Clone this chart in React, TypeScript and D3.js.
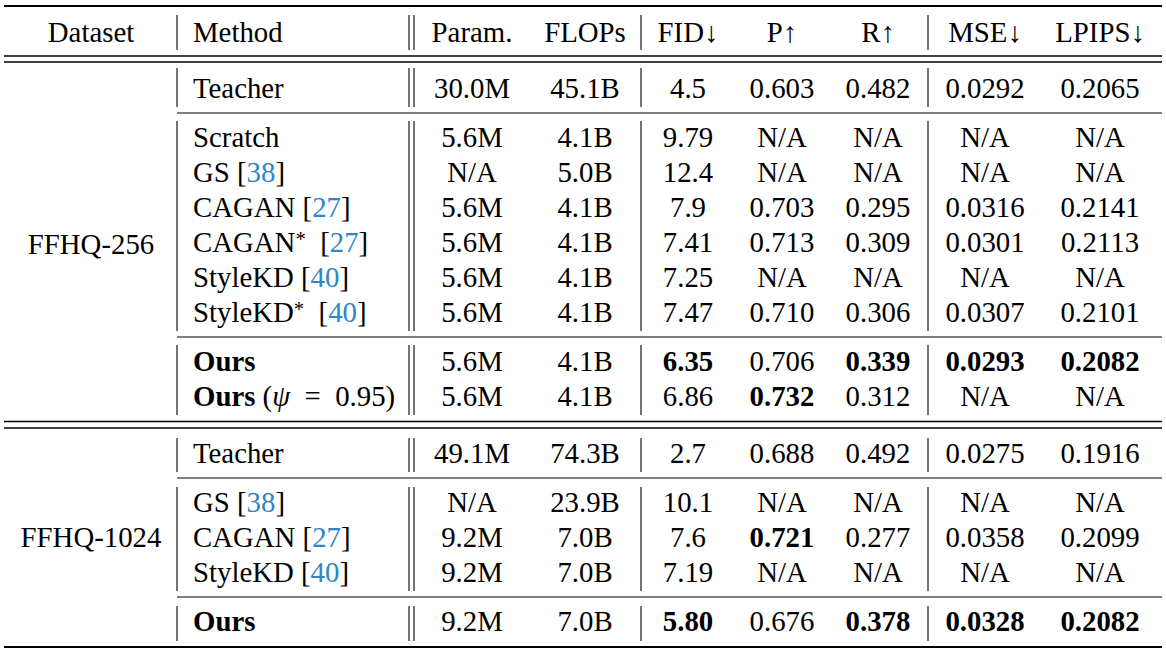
import React from "react";
import * as d3 from "d3";

// ---------- data ----------
const headers = ["Dataset", "Method", "Param.", "FLOPs", "FID\u2193", "P\u2191", "R\u2191", "MSE\u2193", "LPIPS\u2193"];
const datasets = ["FFHQ-256", "FFHQ-1024"];
const rowDataset = [0, 0, 0, 0, 0, 0, 0, 0, 0, 1, 1, 1, 1, 1];
const rowGroup = [0, 1, 1, 1, 1, 1, 1, 2, 2, 3, 4, 4, 4, 5];
const methods = ["Teacher", "Scratch", "GS", "CAGAN", "CAGAN", "StyleKD", "StyleKD", "Ours", "Ours", "Teacher", "GS", "CAGAN", "StyleKD", "Ours"];
const methodStar = [false, false, false, false, true, false, true, false, false, false, false, false, false, false];
const methodCite = ["", "", "38", "27", "27", "40", "40", "", "", "", "38", "27", "40", ""];
const methodBold = [false, false, false, false, false, false, false, true, true, false, false, false, false, true];
const methodPsi = [false, false, false, false, false, false, false, false, true, false, false, false, false, false];
const params = ["30.0M", "5.6M", "N/A", "5.6M", "5.6M", "5.6M", "5.6M", "5.6M", "5.6M", "49.1M", "N/A", "9.2M", "9.2M", "9.2M"];
const flops = ["45.1B", "4.1B", "5.0B", "4.1B", "4.1B", "4.1B", "4.1B", "4.1B", "4.1B", "74.3B", "23.9B", "7.0B", "7.0B", "7.0B"];
const fid = ["4.5", "9.79", "12.4", "7.9", "7.41", "7.25", "7.47", "6.35", "6.86", "2.7", "10.1", "7.6", "7.19", "5.80"];
const prec = ["0.603", "N/A", "N/A", "0.703", "0.713", "N/A", "0.710", "0.706", "0.732", "0.688", "N/A", "0.721", "N/A", "0.676"];
const recall = ["0.482", "N/A", "N/A", "0.295", "0.309", "N/A", "0.306", "0.339", "0.312", "0.492", "N/A", "0.277", "N/A", "0.378"];
const mse = ["0.0292", "N/A", "N/A", "0.0316", "0.0301", "N/A", "0.0307", "0.0293", "N/A", "0.0275", "N/A", "0.0358", "N/A", "0.0328"];
const lpips = ["0.2065", "N/A", "N/A", "0.2141", "0.2113", "N/A", "0.2101", "0.2082", "N/A", "0.1916", "N/A", "0.2099", "N/A", "0.2082"];
// bold flags per value column (row indices)
const boldFid = [7, 13];
const boldP = [8, 11];
const boldR = [7, 13];
const boldMse = [7, 13];
const boldLpips = [7, 13];

// ---------- layout ----------
const W = 1166, H = 650;
const FONT = "'Liberation Serif', 'Times New Roman', serif";
const FS = 28.8;
const CITE = "#2e86c9";
const valueCols = [params, flops, fid, prec, recall, mse, lpips];
const valueBold = [[], [], boldFid, boldP, boldR, boldMse, boldLpips];
const colCenters = [472, 585, 688, 782, 878, 985, 1100];
const headerCenters = [91, 193, 472, 585, 688, 782, 878, 985, 1100];

export default function App() {
  const slot: number[] = [];
  let acc = 0;
  methods.forEach((_, i) => {
    if (i > 0) {
      if (rowDataset[i] !== rowDataset[i - 1]) acc += 22 / 35;
      else if (rowGroup[i] !== rowGroup[i - 1]) acc += 14 / 35;
      acc += 1;
    }
    slot.push(acc);
  });
  const y = d3.scaleLinear().domain([0, 1]).range([98, 133]);
  const x = d3.scaleLinear().domain([0, W]).range([0, W]);

  const rules: { y: number; x1: number; w: number }[] = [
    { y: 6, x1: 4, w: 2 },
    { y: 56, x1: 4, w: 1.3 },
    { y: 62, x1: 4, w: 1.3 },
    { y: 113, x1: 177, w: 1.2 },
    { y: 337, x1: 177, w: 1.2 },
    { y: 421.5, x1: 4, w: 1.3 },
    { y: 428, x1: 4, w: 1.3 },
    { y: 478, x1: 177, w: 1.2 },
    { y: 597, x1: 177, w: 1.2 },
    { y: 647, x1: 4, w: 2 },
  ];
  const vspans: [number, number][] = [
    [15, 50], [68, 107], [121, 331], [345, 415], [438, 472], [487, 591], [606, 641],
  ];
  const vx = [177, 409, 414, 641, 928];

  const dsY = datasets.map((_, d) => {
    const idx = rowDataset.map((v, i) => (v === d ? i : -1)).filter((i) => i >= 0);
    return d3.mean(idx.map((i) => y(slot[i]))) as number;
  });

  return (
    <svg width={W} height={H} style={{ position: "absolute", left: 0, top: 0, background: "#fff" }}
      fontFamily={FONT} fontSize={FS}>
      <rect width={W} height={H} fill="#fff" />
      {rules.map((r, i) => (
        <line key={"r" + i} x1={x(r.x1)} x2={x(1162)} y1={r.y} y2={r.y} stroke="#000" strokeWidth={r.w} />
      ))}
      {vspans.map((s, j) => vx.map((vv, k) => (
        <line key={"v" + j + "-" + k} x1={vv} x2={vv} y1={s[0]} y2={s[1]} stroke="#000" strokeWidth={1.1} />
      )))}
      {headers.map((h, i) => (
        <text key={"h" + i} x={headerCenters[i]} y={42} textAnchor={i === 1 ? "start" : "middle"} fill="#000">{h}</text>
      ))}
      {datasets.map((d, i) => (
        <text key={"d" + i} x={91} y={i === 0 ? dsY[i] : y(slot[11])} textAnchor="middle" fill="#000">{d}</text>
      ))}
      {methods.map((m, i) => (
        <text key={"m" + i} x={193} y={y(slot[i])} fill="#000">
          <tspan fontWeight={methodBold[i] ? "bold" : "normal"}>{m}</tspan>
          {methodStar[i] ? <tspan fontSize={FS * 0.72} dy={-6}>*</tspan> : null}
          {methodStar[i] ? <tspan dy={6}>{"\u2002"}</tspan> : null}
          {methodCite[i] ? <tspan>{methodStar[i] ? "[" : " ["}</tspan> : null}
          {methodCite[i] ? <tspan fill={CITE}>{methodCite[i]}</tspan> : null}
          {methodCite[i] ? <tspan>]</tspan> : null}
          {methodPsi[i] ? <tspan> (</tspan> : null}
          {methodPsi[i] ? <tspan fontStyle="italic">{"\u03C8"}</tspan> : null}
          {methodPsi[i] ? <tspan>{"\u2002=\u20020.95)"}</tspan> : null}
        </text>
      ))}
      {valueCols.map((col, c) => col.map((v, i) => (
        <text key={"c" + c + "-" + i} x={colCenters[c]} y={y(slot[i])} textAnchor="middle" fill="#000"
          fontWeight={valueBold[c].includes(i) ? "bold" : "normal"}>{v}</text>
      )))}
    </svg>
  );
}
